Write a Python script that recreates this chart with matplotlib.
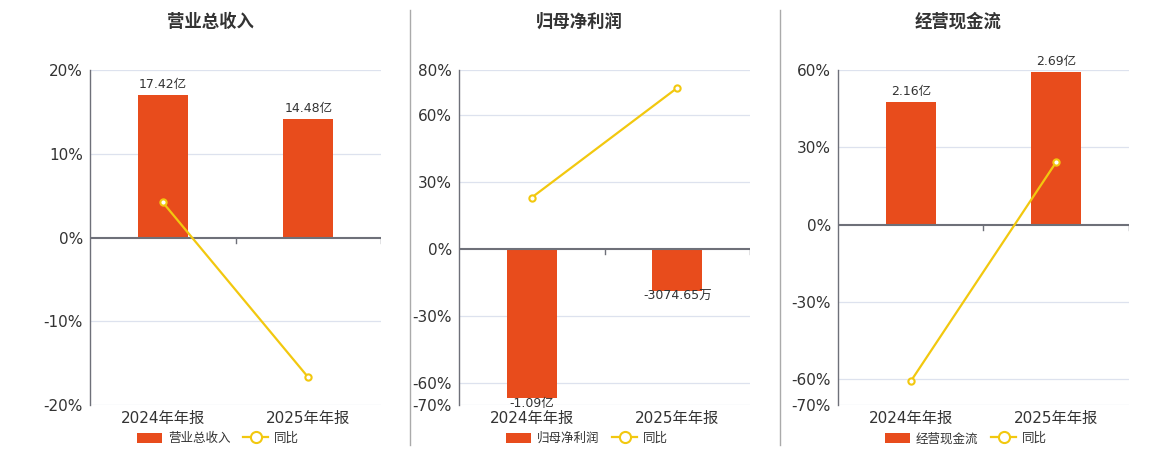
import matplotlib
matplotlib.use("Agg")
import matplotlib.pyplot as plt
from matplotlib.lines import Line2D
from matplotlib.patches import Patch

plt.rcParams['font.family'] = ['DejaVu Sans', 'Noto Sans CJK SC']

# data
categories = ['2024年年报', '2025年年报']
titles = ['营业总收入', '归母净利润', '经营现金流']
bar_values = [[17.42, 14.48], [-1.09, -0.307465], [2.16, 2.69]]  # 亿
bar_labels = [['17.42亿', '14.48亿'], ['-1.09亿', '-3074.65万'], ['2.16亿', '2.69亿']]
yoy_values = [[4.2, -16.7], [22.9, 72.0], [-60.8, 24.3]]  # %
pct_ticks = [[20, 10, 0, -10, -20], [80, 60, 30, 0, -30, -60, -70], [60, 30, 0, -30, -60, -70]]

# bar axis extent on the side where the bars go (keeps zero aligned with the % axis)
bar_extent = [20.5, -1.14, 2.73]

bar_color = '#e84c1c'
line_color = '#f2c80f'
grid_color = '#dde2ee'
axis_color = '#6e7079'
text_color = '#333333'

fig = plt.figure(figsize=(11.6, 4.5), dpi=100)
lefts = [90, 459, 838]

for i in range(3):
    ax = fig.add_axes([lefts[i] / 1160, 45 / 450, 291 / 1160, 335 / 450])
    lo, hi = min(pct_ticks[i]), max(pct_ticks[i])
    ax.set_ylim(lo, hi)
    ax.set_xlim(-0.5, 1.5)
    ax.set_yticks(pct_ticks[i])
    ax.set_yticklabels([f'{t}%' for t in pct_ticks[i]], fontsize=11, color=text_color)
    ax.tick_params(axis='y', length=0, pad=5)
    ax.set_xticks(range(len(categories)))
    ax.set_xticklabels(categories, fontsize=11, color=text_color)
    ax.tick_params(axis='x', length=0, pad=4)
    for t in pct_ticks[i]:
        if t != 0:
            ax.axhline(t, color=grid_color, lw=0.9, zorder=0)
    for s in ['top', 'right', 'bottom']:
        ax.spines[s].set_visible(False)
    ax.spines['left'].set_color(axis_color)
    ax.spines['left'].set_linewidth(1.0)

    # bars on a twin axis with aligned zero
    bx = ax.twinx()
    if bar_extent[i] > 0:
        bhi = bar_extent[i]
        blo = bhi * lo / hi
    else:
        blo = bar_extent[i]
        bhi = blo * hi / lo
    bx.set_ylim(blo, bhi)
    bx.set_yticks([])
    for s in ['top', 'right', 'bottom', 'left']:
        bx.spines[s].set_visible(False)
    bars = bx.bar(range(len(categories)), bar_values[i], width=0.345, color=bar_color, zorder=2)
    for b, v, lab in zip(bars, bar_values[i], bar_labels[i]):
        if v >= 0:
            bx.annotate(lab, (b.get_x() + b.get_width() / 2, v), xytext=(0, 3),
                        textcoords='offset points', ha='center', va='bottom',
                        fontsize=9, color=text_color)
        else:
            bx.annotate(lab, (b.get_x() + b.get_width() / 2, v), xytext=(0, 1),
                        textcoords='offset points', ha='center', va='top',
                        fontsize=9, color=text_color)

    # line on top
    lx = ax.twinx()
    lx.set_ylim(lo, hi)
    lx.set_yticks([])
    for s in ['top', 'right', 'bottom', 'left']:
        lx.spines[s].set_visible(False)
    lx.axhline(0, color=axis_color, lw=1.5, zorder=3)
    zf = (0 - lo) / (hi - lo)
    for xb in [0.5, 1.5]:
        lx.axvline(xb, ymin=zf - 0.015, ymax=zf, color=axis_color, lw=1.0)
    lx.plot(range(len(categories)), yoy_values[i], color=line_color, lw=1.6,
            marker='o', markersize=4.5, markerfacecolor='white',
            markeredgecolor=line_color, markeredgewidth=1.5, zorder=4)
    lx.set_xlim(-0.5, 1.5)

    fig.text((lefts[i] - 90 + 210) / 1160, 1 - 22 / 450, titles[i], ha='center', va='center',
             fontsize=12.5, fontweight='bold', color=text_color)

    handles = [Patch(facecolor=bar_color, edgecolor='none'),
               Line2D([0], [0], color=line_color, lw=1.6, marker='o', markersize=8,
                      markerfacecolor='white', markeredgecolor=line_color, markeredgewidth=1.5)]
    lx.legend(handles, [titles[i], '同比'], loc='upper center', bbox_to_anchor=(0.44, -0.055),
              ncol=2, frameon=False, fontsize=9, handlelength=2.0, handleheight=0.9,
              columnspacing=1.0, handletextpad=0.5, labelcolor=text_color, borderpad=0.2)

# separators
for xs in [410, 780]:
    fig.add_artist(Line2D([xs / 1160, xs / 1160], [1 - 10 / 450, 1 - 445 / 450],
                          color='#aaaaaa', lw=1.0))

fig.savefig('out.png', dpi=100)
